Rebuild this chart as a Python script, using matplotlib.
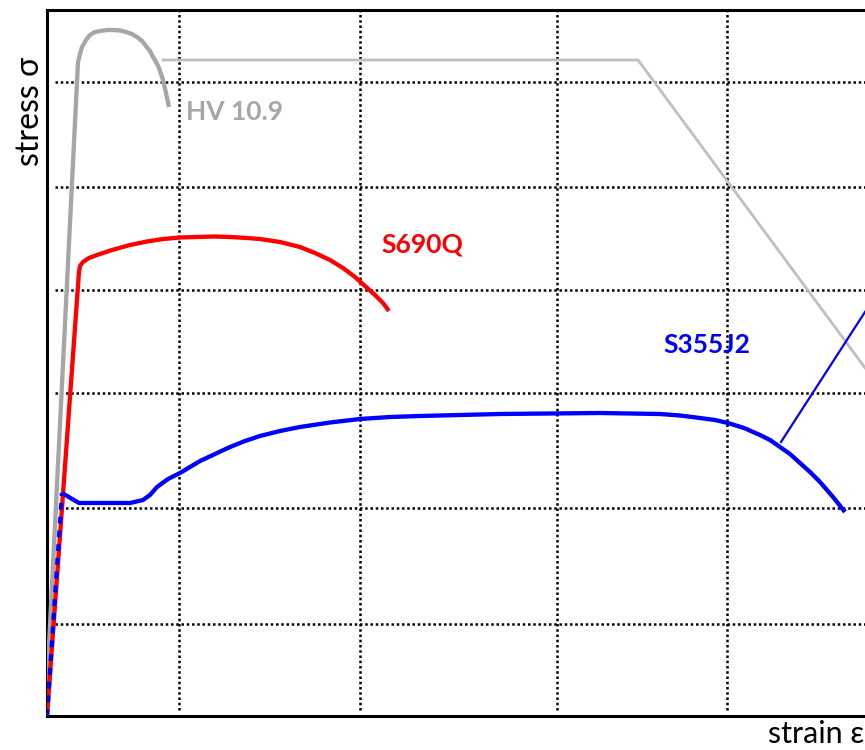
import matplotlib
matplotlib.use("Agg")
import matplotlib.pyplot as plt

plt.rcParams['font.family'] = ['Lato', 'DejaVu Sans']

# stress-strain curves (arbitrary units, no scale shown)
hv_strain = [-0.015, 0.31, 0.33, 0.35, 0.39, 0.43, 0.48, 0.53, 0.60, 0.66, 0.73, 0.79, 0.85,
             0.90, 0.95, 0.99, 1.03, 1.06, 1.09, 1.12, 1.14, 1.16, 1.19, 1.22]
hv_stress = [0.0, 6.54, 6.62, 6.69, 6.76, 6.81, 6.84, 6.85, 6.86, 6.86, 6.855, 6.84, 6.82,
             6.79, 6.75, 6.70, 6.65, 6.59, 6.54, 6.48, 6.42, 6.36, 6.23, 6.09]

s690_strain = [0.0, 0.32, 0.33, 0.36, 0.42, 0.50, 0.65, 0.83, 1.00, 1.16, 1.33, 1.50, 1.67, 1.83,
               2.00, 2.13, 2.33, 2.53, 2.68, 2.83, 2.96, 3.08, 3.18, 3.28, 3.36, 3.42]
s690_stress = [0.0, 4.44, 4.50, 4.54, 4.58, 4.61, 4.66, 4.71, 4.745, 4.77, 4.785, 4.79, 4.795, 4.79,
               4.78, 4.77, 4.74, 4.69, 4.63, 4.56, 4.48, 4.39, 4.30, 4.21, 4.13, 4.05]

s355_strain = [0.0, 0.15, 0.32, 0.53, 0.83, 0.96, 1.03, 1.10, 1.21, 1.33, 1.53, 1.68, 1.83, 1.98,
               2.13, 2.33, 2.53, 2.83, 3.13, 3.43, 3.73, 4.53, 5.53, 6.13, 6.33, 6.53, 6.68,
               6.81, 6.97, 7.13, 7.23, 7.33, 7.43, 7.53, 7.63, 7.73, 7.86, 7.98]
s355_stress = [0.0, 2.23, 2.13, 2.13, 2.13, 2.16, 2.21, 2.29, 2.37, 2.43, 2.55, 2.62, 2.69, 2.75,
               2.80, 2.85, 2.89, 2.935, 2.97, 2.99, 3.00, 3.02, 3.03, 3.02, 3.005, 2.98, 2.96,
               2.93, 2.88, 2.81, 2.76, 2.69, 2.62, 2.53, 2.44, 2.34, 2.19, 2.04]

# leader lines going off to the right
hv_leader_x = [1.16, 5.91, 9.0]
hv_leader_y = [6.56, 6.56, 2.37]
s355_leader_x = [7.34, 9.0]
s355_leader_y = [2.74, 5.31]

grid_x = [1.32, 3.13, 5.10, 6.80]
grid_y = [0.92, 2.08, 3.23, 4.26, 5.29, 6.34]

labels = ["HV 10.9", "S690Q", "S355J2"]
label_x = [1.39, 3.34, 6.16]
label_y = [5.96, 4.63, 3.63]
colors = ["#a6a6a6", "#ff0000", "#0000ff"]

W, H = 865, 750
fig = plt.figure(figsize=(W / 100, H / 100), dpi=100)
ax = fig.add_axes([47 / W, 34 / H, 858 / W, 706 / H])
ax.set_xlim(0, 8.58)
ax.set_ylim(0, 7.06)
ax.set_xticks([])
ax.set_yticks([])
for side in ['left', 'top', 'bottom']:
    ax.spines[side].set_linewidth(2.2)
    ax.spines[side].set_color('black')
ax.spines['right'].set_visible(False)

dots = dict(color='black', lw=1.8, linestyle=(0, (1, 1.1)), zorder=1)
ax.hlines(grid_y, 0.08, 8.58, **dots)
ax.vlines(grid_x, 0.06, 7.06, **dots)

ax.plot(hv_leader_x, hv_leader_y, color='#bfbfbf', lw=2.0, zorder=2, clip_on=False)
ax.plot(s355_leader_x, s355_leader_y, color='#0000ff', lw=1.6, zorder=2, clip_on=False)

line = dict(lw=3.1, solid_capstyle='butt', solid_joinstyle='round')
ax.plot(hv_strain, hv_stress, color=colors[0], zorder=3, **line)
ax.plot(s690_strain, s690_stress, color=colors[1], zorder=4, **line)
ax.plot(s355_strain[:2], s355_stress[:2], color=colors[2], lw=3.1, zorder=5,
        linestyle=(0, (1.6, 1.6)), dash_capstyle='butt')
ax.plot(s355_strain[1:], s355_stress[1:], color=colors[2], zorder=5, **line)

for txt, x, y, c in zip(labels, label_x, label_y, colors):
    ax.text(x, y, txt, color=c, fontsize=19, fontweight='bold', va='baseline', ha='left', zorder=6)

fig.text(30 / W, 1 - 111 / H, "stress σ", rotation=90, fontsize=23, ha='center', va='center')
fig.text(768 / W, 7 / H, "strain ε", fontsize=22, ha='left', va='baseline')

fig.savefig("out.png", dpi=100)
